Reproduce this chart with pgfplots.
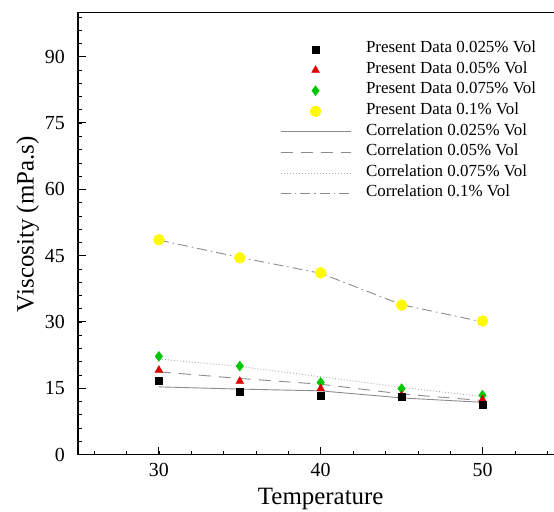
\documentclass[border=0pt]{standalone}
\usepackage{fontspec}
\setmainfont{Liberation Serif}
\usepackage{pgfplots}
\pgfplotsset{compat=1.18}

\definecolor{pdred}{RGB}{220,0,0}
\definecolor{pdgreen}{RGB}{0,200,0}
\definecolor{pdyellow}{RGB}{255,250,0}
\definecolor{corrgray}{RGB}{140,140,140}
\definecolor{dotgray}{RGB}{175,175,175}

\begin{document}
\begin{tikzpicture}
% page = 554 x 512 bp, axis box starts 78bp from the left
\useasboundingbox (-78bp,-57.5bp) rectangle (476bp,454.5bp);
\begin{axis}[
    scale only axis,
    width=485.4bp, height=442bp,
    xmin=25, xmax=55, ymin=0, ymax=100,
    xtick={30,40,50},
    xticklabels={\textrm{30},\textrm{40},\textrm{50}},
    minor xtick={26,28,...,54},
    ytick={0,15,...,90},
    yticklabels={\textrm{0},\textrm{15},\textrm{30},\textrm{45},\textrm{60},\textrm{75},\textrm{90}},
    minor ytick={3,6,...,99},
    xtick pos=bottom, ytick pos=left,
    tick align=inside,
    major tick length=8bp, minor tick length=4bp,
    axis line style={line width=1.2bp},
    every tick/.style={black, line width=1bp},
    minor tick style={line width=0.5bp},
    ticklabel style={font=\rmfamily\fontsize{20}{24}\selectfont, inner sep=0pt},
    xticklabel style={anchor=base, yshift=-21.5bp},
    yticklabel style={anchor=east, xshift=-13bp},
    xlabel={Temperature},
    ylabel={Viscosity (mPa.s)},
    label style={font=\rmfamily\fontsize{25}{30}\selectfont, inner sep=0pt},
    xlabel style={at={(axis description cs:0.5,-0.114)}, anchor=base},
    ylabel style={at={(axis description cs:-0.08,0.521)}, anchor=south},
    legend style={draw=none, fill=none, inner sep=0pt,
        at={(axis cs:37.48,94.0)}, anchor=north west,
        font=\rmfamily\fontsize{17}{20}\selectfont,
        row sep=0pt, column sep=15bp,
        nodes={inner sep=0pt, text height=13.5bp, text depth=7.1bp, anchor=west}},
    legend cell align=left,
    legend image code/.code={\draw[mark repeat=2,mark phase=2]
        plot coordinates {(0bp,0bp) (35bp,0bp) (70bp,0bp)};},
]
% legend entries in the reference's order
\addlegendimage{only marks, mark=square*, mark size=3.5bp, black}
\addlegendimage{only marks, mark=triangle*, mark size=4.5bp, pdred}
\addlegendimage{only marks, mark=diamond*, mark size=5bp, pdgreen}
\addlegendimage{only marks, mark=*, mark size=5.5bp, pdyellow}
\addlegendimage{corrgray, line width=0.9bp}
\addlegendimage{corrgray, line width=0.9bp, dash pattern=on 12bp off 8bp}
\addlegendimage{dotgray, line width=0.9bp, dash pattern=on 1bp off 2bp}
\addlegendimage{corrgray, line width=0.9bp, dash pattern=on 10bp off 4bp on 1.5bp off 4bp}
\legend{Present Data 0.025\% Vol, Present Data 0.05\% Vol,
        Present Data 0.075\% Vol, Present Data 0.1\% Vol,
        Correlation 0.025\% Vol, Correlation 0.05\% Vol,
        Correlation 0.075\% Vol, Correlation 0.1\% Vol}

% correlations (under the markers)
\addplot[forget plot, corrgray, line width=0.9bp, no marks]
    coordinates {(30,15.3) (35,14.8) (40,14.4) (45,12.8) (50,11.8)};
\addplot[forget plot, corrgray, line width=0.9bp, no marks, dash pattern=on 12bp off 8bp]
    coordinates {(30,18.7) (35,17.2) (40,15.9) (45,13.7) (50,12.2)};
\addplot[forget plot, dotgray, line width=0.9bp, no marks, dash pattern=on 1bp off 2bp]
    coordinates {(30,21.6) (35,19.9) (40,17.6) (45,15.2) (50,13.1)};
\addplot[forget plot, corrgray, line width=0.9bp, no marks, dash pattern=on 10bp off 4bp on 1.5bp off 4bp]
    coordinates {(30,48.5) (35,44.6) (40,41.0) (45,33.9) (50,30.0)};

% measured data
\addplot[forget plot, only marks, mark=*, mark size=5.5bp, pdyellow]
    coordinates {(30,48.6) (35,44.5) (40,41.1) (45,33.8) (50,30.2)};
\addplot[forget plot, only marks, mark=diamond*, mark size=5bp, pdgreen]
    coordinates {(30,22.2) (35,20.0) (40,16.3) (45,14.9) (50,13.4)};
\addplot[forget plot, only marks, mark=triangle*, mark size=4.5bp, pdred]
    coordinates {(30,19.1) (35,16.6) (40,14.9) (45,13.4) (50,12.4)};
\addplot[forget plot, only marks, mark=square*, mark size=3.5bp, black]
    coordinates {(30,16.8) (35,14.2) (40,13.4) (45,13.0) (50,11.2)};
\end{axis}
\end{tikzpicture}
\end{document}
